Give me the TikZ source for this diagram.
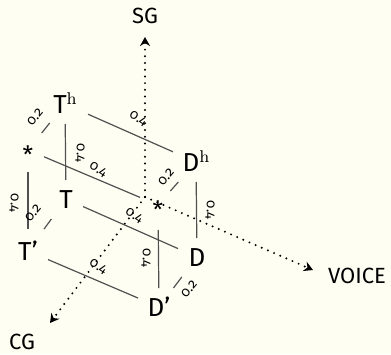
\documentclass[tikz,border=0pt]{standalone}
\usepackage[no-math]{fontspec}
\setmainfont{Fira Sans}[Numbers=OldStyle]
\newfontfamily\lmr{Latin Modern Roman}
\usetikzlibrary{arrows.meta}
\definecolor{bgc}{HTML}{FEFEF3}
\definecolor{edgec}{HTML}{505050}
\begin{document}
\begin{tikzpicture}[x=0.5pt,y=-0.5pt,
  edge/.style={draw=edgec, line width=0.6pt},
  axis/.style={line width=1.1pt, line cap=round, dash pattern=on 0pt off 3.35pt, -{Stealth[length=4.5pt,width=5pt]}},
  vtx/.style={font=\fontsize{13}{14}\selectfont, text height=9pt, text depth=0pt, inner sep=0pt},
  lab/.style={font=\fontsize{6.8}{7}\selectfont, inner sep=0pt},
  axlab/.style={font=\fontsize{11}{12}\selectfont, inner sep=0pt},
  ast/.style={font=\fontsize{12}{12}\selectfont, inner sep=0pt, yshift=-2.3pt}]
\fill[bgc] (0,0) rectangle (391,354);
\useasboundingbox (0,0) rectangle (391,354);
% vertices
\coordinate (vTh) at (65,104);
\coordinate (vsL) at (28,150);
\coordinate (vT)  at (66,199);
\coordinate (vTp) at (28,251);
\coordinate (vDh) at (196,162);
\coordinate (vsC) at (158,205);
\coordinate (vD)  at (197,257);
\coordinate (vDp) at (159,307);
% axes
\coordinate (O) at (145,197);
\coordinate (SGt) at (145,37);
\coordinate (VOt) at (313,270);
\coordinate (CGt) at (50,323);
\draw[axis] (O) -- (SGt);
\draw[axis] (O) -- (VOt);
\draw[axis] (O) -- (CGt);
\node[axlab] (SG) at (145,16) {SG};
\node[axlab] (VOICE) at (357,276) {VOICE};
\node[axlab] (CG) at (22,342) {CG};
% nodes
\node[vtx] (nTh) at (vTh) {T\raisebox{4.3pt}{\lmr\fontsize{8.5}{9}\selectfont h}};
\node[vtx] (nDh) at (vDh) {D\raisebox{4.3pt}{\lmr\fontsize{8.5}{9}\selectfont h}};
\node[vtx] (nT) at (vT) {T};
\node[vtx] (nTp) at (vTp) {T’};
\node[vtx] (nD) at (vD) {D};
\node[vtx] (nDp) at (vDp) {D’};
\node[ast] (nsL) at (vsL) {*};
\node[ast] (nsC) at (vsC) {*};
% edges along VOICE
\draw[edge, shorten <=12.6pt, shorten >=12.6pt] (vTh) -- (vDh);
\draw[edge, shorten <=8.7pt, shorten >=9.75pt] (vsL) -- (vsC);
\draw[edge, shorten <=9.3pt, shorten >=10.4pt] (vT) -- (vD);
\draw[edge, shorten <=10.9pt, shorten >=11.4pt] (vTp) -- (vDp);
% vertical edges
\draw[edge, shorten <=10pt, shorten >=9.5pt] (vTh) -- (vT);
\draw[edge, shorten <=10pt, shorten >=9.5pt] (vDh) -- (vD);
\draw[edge, shorten <=11pt, shorten >=11pt] (vsL) -- (vTp);
\draw[edge, shorten <=12.5pt, shorten >=9.5pt] (vsC) -- (vDp);
% short edges
\draw[edge, shorten <=12.2pt, shorten >=10.9pt] (vTh) -- (vsL);
\draw[edge, shorten <=12.4pt, shorten >=13.6pt] (vT) -- (vTp);
\draw[edge, shorten <=13.35pt, shorten >=9.35pt] (vDh) -- (vsC);
\draw[edge, shorten <=12.55pt, shorten >=11.95pt] (vD) -- (vDp);
% labels
\node[lab, rotate=-32] (l1) at (138,119) {0.4};
\node[lab, rotate=-32] (l2) at (98,170) {0.4};
\node[lab, rotate=-32] (l3) at (134,216) {0.4};
\node[lab, rotate=-32] (l4) at (98,267) {0.4};
\node[lab, rotate=-90] (l5) at (80,153) {0.4};
\node[lab, rotate=-90] (l6) at (210,210) {0.4};
\node[lab, rotate=-90] (l7) at (14,203) {0.4};
\node[lab, rotate=-90] (l8) at (146,258) {0.4};
\node[lab, rotate=50] (l9) at (35,117) {0.2};
\node[lab, rotate=50] (l10) at (33,213) {0.2};
\node[lab, rotate=50] (l11) at (166,177) {0.2};
\node[lab, rotate=50] (l12) at (189,289) {0.2};
\end{tikzpicture}
\end{document}
